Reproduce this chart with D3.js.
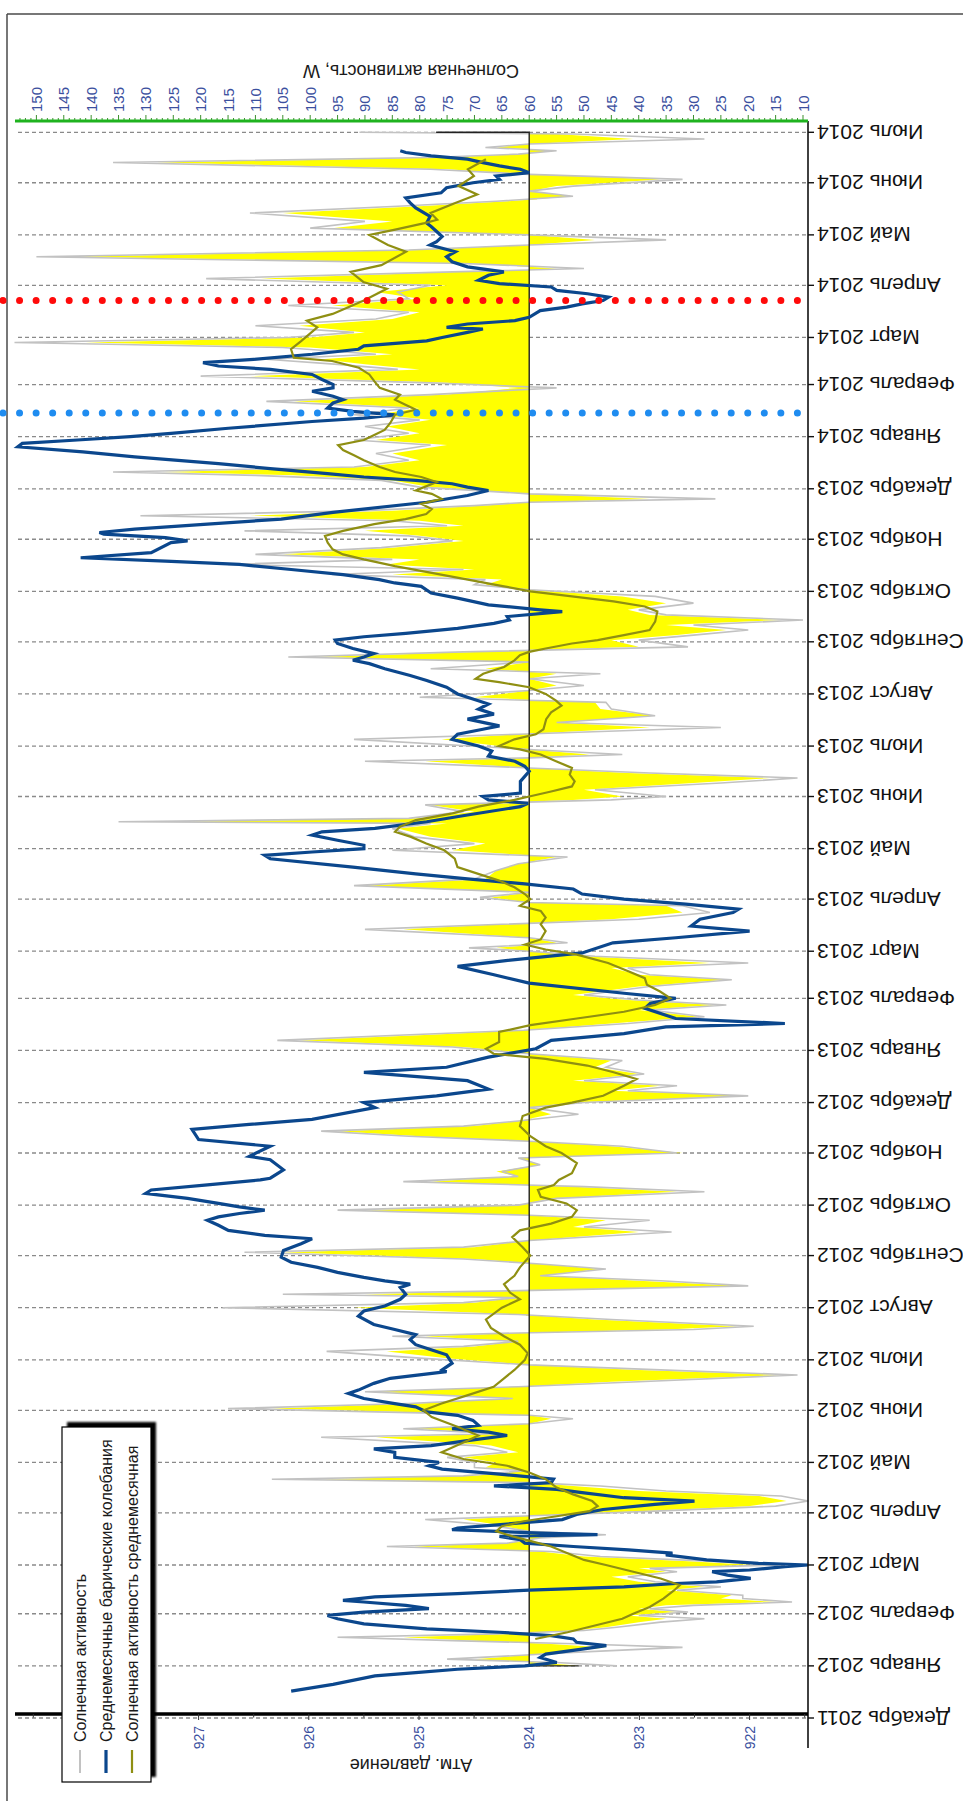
<!DOCTYPE html>
<html>
<head>
<meta charset="utf-8">
<script src="https://cdn.jsdelivr.net/npm/d3@7"></script>
<style>
  html, body { margin: 0; padding: 0; background: #fff; }
  svg { display: block; }
  text { font-family: "Liberation Sans", Arial, sans-serif; }
</style>
</head>
<body>
<svg id="chart" width="963" height="1801"></svg>
<script>
// ---------- labels ----------
const monthNames = ["Январь", "Февраль", "Март", "Апрель", "Май", "Июнь",
                    "Июль", "Август", "Сентябрь", "Октябрь", "Ноябрь", "Декабрь"];
const pressureTicks = [922, 923, 924, 925, 926, 927];
const solarTicks = [10, 15, 20, 25, 30, 35, 40, 45, 50, 55, 60, 65, 70, 75, 80,
                    85, 90, 95, 100, 105, 110, 115, 120, 125, 130, 135, 140, 145, 150];
const legendNames = ["Солнечная активность",
                     "Среднемесячные барические колебания",
                     "Солнечная активность среднемесячная"];
const pressureTitle = "Атм. давление";
const solarTitle = "Солнечная активность, W";
const solarBaseline = 60;
const markerDates = { red: "2014-03-23", blue: "2014-01-15" };

// ---------- solar activity: [date, area value, daily value] ----------
const solarActivity = [
  ["2012-01-01",51,44],["2012-01-03",58,55],["2012-01-05",70,75],["2012-01-07",62,63],
  ["2012-01-09",55,52],["2012-01-12",46,32],["2012-01-14",56,50],["2012-01-16",70,74],
  ["2012-01-18",83,95],["2012-01-20",64,66],["2012-01-22",52,50],["2012-01-24",46,44],
  ["2012-01-27",40,36],["2012-01-29",35,28],["2012-01-31",42,40],["2012-02-02",33,31],
  ["2012-02-04",40,38],["2012-02-06",35,30],["2012-02-08",15,12],["2012-02-10",25,21],
  ["2012-02-12",23,21],["2012-02-15",35,33],["2012-02-17",28,25],["2012-02-20",40,37],
  ["2012-02-23",45,42],["2012-02-26",35,33],["2012-02-28",40,38],["2012-03-01",19,14],
  ["2012-03-03",30,25],["2012-03-06",50,47],["2012-03-09",58,56],["2012-03-12",81,86],
  ["2012-03-14",64,64],["2012-03-17",58,58],["2012-03-19",47,46],["2012-03-21",60,60],
  ["2012-03-25",66,68],["2012-03-28",72,79],["2012-03-30",62,62],["2012-04-02",40,37],
  ["2012-04-05",20,15],["2012-04-08",13,9],["2012-04-11",18,14],["2012-04-14",40,35],
  ["2012-04-17",52,47],["2012-04-19",60,60],["2012-04-21",98,107],["2012-04-23",70,72],
  ["2012-04-26",61,61],["2012-04-28",68,70],["2012-05-01",66,70],["2012-05-04",72,75],
  ["2012-05-07",62,64],["2012-05-11",67,70],["2012-05-16",88,98],["2012-05-18",65,66],
  ["2012-05-21",81,83],["2012-05-24",60,60],["2012-05-27",56,52],["2012-05-29",60,60],
  ["2012-06-02",107,115],["2012-06-05",80,82],["2012-06-08",63,63],["2012-06-12",88,90],
  ["2012-06-15",62,62],["2012-06-18",45,40],["2012-06-22",14,11],["2012-06-25",40,36],
  ["2012-06-28",60,60],["2012-07-02",75,80],["2012-07-06",86,97],["2012-07-09",70,72],
  ["2012-07-12",62,62],["2012-07-15",79,85],["2012-07-17",62,62],["2012-07-19",35,30],
  ["2012-07-21",22,19],["2012-07-25",48,45],["2012-07-28",62,62],["2012-08-01",92,116],
  ["2012-08-04",70,72],["2012-08-07",62,62],["2012-08-09",90,105],["2012-08-11",64,64],
  ["2012-08-14",22,20],["2012-08-17",40,36],["2012-08-20",58,58],["2012-08-24",47,46],
  ["2012-08-27",58,58],["2012-08-30",70,72],["2012-09-03",105,112],["2012-09-06",70,72],
  ["2012-09-10",60,60],["2012-09-15",40,34],["2012-09-18",52,50],["2012-09-22",46,38],
  ["2012-09-25",60,60],["2012-09-28",90,95],["2012-10-01",62,62],["2012-10-05",56,55],
  ["2012-10-09",33,28],["2012-10-12",52,50],["2012-10-15",78,83],["2012-10-18",62,62],
  ["2012-10-21",66,65],["2012-10-25",58,58],["2012-10-29",62,62],["2012-11-01",32,33],
  ["2012-11-05",45,43],["2012-11-08",60,60],["2012-11-11",80,82],["2012-11-14",95,98],
  ["2012-11-17",70,72],["2012-11-20",62,62],["2012-11-24",56,51],["2012-11-28",60,60],
  ["2012-12-01",52,50],["2012-12-05",21,20],["2012-12-08",45,42],["2012-12-11",36,33],
  ["2012-12-14",52,50],["2012-12-18",40,39],["2012-12-22",48,46],["2012-12-26",45,43],
  ["2012-12-30",60,60],["2013-01-03",72,74],["2013-01-07",102,106],["2013-01-10",80,84],
  ["2013-01-13",61,61],["2013-01-17",45,42],["2013-01-21",29,28],["2013-01-25",40,38],
  ["2013-01-28",26,24],["2013-01-31",42,40],["2013-02-03",52,50],["2013-02-08",40,38],
  ["2013-02-12",24,23],["2013-02-15",40,38],["2013-02-19",45,42],["2013-02-22",27,20],
  ["2013-02-26",50,48],["2013-03-01",60,60],["2013-03-03",66,71],["2013-03-06",55,53],
  ["2013-03-09",60,60],["2013-03-14",83,90],["2013-03-17",65,65],["2013-03-20",45,40],
  ["2013-03-24",32,27],["2013-03-28",35,32],["2013-03-30",60,60],["2013-04-02",67,69],
  ["2013-04-05",60,60],["2013-04-09",90,92],["2013-04-13",68,70],["2013-04-18",66,66],
  ["2013-04-22",62,62],["2013-04-26",55,53],["2013-04-30",74,85],["2013-05-04",68,70],
  ["2013-05-08",78,81],["2013-05-13",84,85],["2013-05-16",75,78],["2013-05-17",124,135],
  ["2013-05-19",80,82],["2013-05-23",70,72],["2013-05-27",78,79],["2013-05-30",52,45],
  ["2013-06-01",43,35],["2013-06-05",50,48],["2013-06-09",30,25],["2013-06-12",16,11],
  ["2013-06-15",42,38],["2013-06-18",60,60],["2013-06-22",79,90],["2013-06-24",60,60],
  ["2013-06-26",49,43],["2013-06-29",60,60],["2013-07-05",76,92],["2013-07-08",62,62],
  ["2013-07-12",38,25],["2013-07-15",55,55],["2013-07-19",37,37],["2013-07-23",47,45],
  ["2013-07-27",48,46],["2013-07-30",70,80],["2013-08-03",60,60],["2013-08-06",55,50],
  ["2013-08-10",60,60],["2013-08-13",55,47],["2013-08-16",68,78],["2013-08-20",60,60],
  ["2013-08-23",99,104],["2013-08-26",70,72],["2013-08-29",40,31],["2013-09-02",45,40],
  ["2013-09-05",33,30],["2013-09-08",24,20],["2013-09-11",35,30],["2013-09-14",14,10],
  ["2013-09-17",38,35],["2013-09-20",42,40],["2013-09-24",35,30],["2013-09-28",43,37],
  ["2013-10-02",60,60],["2013-10-05",68,70],["2013-10-08",65,68],["2013-10-11",85,96],
  ["2013-10-14",70,72],["2013-10-17",86,115],["2013-10-20",80,85],["2013-10-23",105,110],
  ["2013-10-27",85,87],["2013-10-31",72,74],["2013-11-03",80,82],["2013-11-06",90,112],
  ["2013-11-09",72,75],["2013-11-12",80,85],["2013-11-15",111,131],["2013-11-18",85,90],
  ["2013-11-21",68,70],["2013-11-23",60,60],["2013-11-25",38,26],["2013-11-28",60,60],
  ["2013-12-02",78,80],["2013-12-06",85,87],["2013-12-09",103,110],["2013-12-11",127,136],
  ["2013-12-14",90,92],["2013-12-18",80,82],["2013-12-22",85,88],["2013-12-27",75,78],
  ["2013-12-30",88,92],["2014-01-03",80,82],["2014-01-07",86,90],["2014-01-11",78,80],
  ["2014-01-14",88,92],["2014-01-18",80,82],["2014-01-22",103,108],["2014-01-26",75,78],
  ["2014-01-30",62,55],["2014-02-02",75,78],["2014-02-06",111,120],["2014-02-10",80,84],
  ["2014-02-13",90,95],["2014-02-16",98,108],["2014-02-19",85,88],["2014-02-23",100,105],
  ["2014-02-26",141,154],["2014-03-01",100,104],["2014-03-04",90,92],["2014-03-08",102,110],
  ["2014-03-12",85,88],["2014-03-16",80,82],["2014-03-20",96,104],["2014-03-24",80,82],
  ["2014-03-28",88,84],["2014-04-01",75,78],["2014-04-05",109,119],["2014-04-09",72,74],
  ["2014-04-11",55,50],["2014-04-14",70,72],["2014-04-18",143,150],["2014-04-22",80,82],
  ["2014-04-25",60,60],["2014-04-28",48,35],["2014-05-01",60,60],["2014-05-05",96,100],
  ["2014-05-09",85,90],["2014-05-14",105,111],["2014-05-18",80,84],["2014-05-21",64,66],
  ["2014-05-24",52,52],["2014-05-27",60,60],["2014-05-30",55,52],["2014-06-03",36,32],
  ["2014-06-06",60,60],["2014-06-09",75,78],["2014-06-13",128,136],["2014-06-16",75,78],
  ["2014-06-18",62,62],["2014-06-20",55,55],["2014-06-22",66,68],["2014-06-24",60,60],
  ["2014-06-27",41,28],["2014-06-30",55,52],["2014-07-01",77,91]
];

// ---------- monthly mean pressure: [date, hPa] ----------
const pressureMonthly = [
  ["2011-12-17",926.16],["2011-12-21",925.78],["2011-12-26",925.4],["2011-12-28",925.03],
  ["2011-12-30",924.65],["2012-01-01",924.04],["2012-01-03",923.75],["2012-01-06",923.9],
  ["2012-01-08",923.85],["2012-01-11",923.52],["2012-01-13",923.3],["2012-01-15",923.57],
  ["2012-01-17",923.6],["2012-01-19",923.8],["2012-01-21",924.27],["2012-01-23",924.93],
  ["2012-01-26",925.5],["2012-01-29",925.74],["2012-01-31",925.83],["2012-02-02",925.5],
  ["2012-02-04",924.91],["2012-02-06",925.12],["2012-02-08",925.5],["2012-02-09",925.69],
  ["2012-02-11",925.4],["2012-02-13",924.65],["2012-02-15",924.0],["2012-02-17",923.14],
  ["2012-02-19",922.67],["2012-02-20",922.3],["2012-02-22",921.99],["2012-02-24",922.2],
  ["2012-02-26",922.34],["2012-02-27",922.0],["2012-02-29",921.68],["2012-03-01",921.47],
  ["2012-03-02",921.92],["2012-03-04",922.39],["2012-03-07",922.76],["2012-03-08",922.7],
  ["2012-03-10",923.1],["2012-03-12",923.6],["2012-03-14",924.04],["2012-03-16",924.08],
  ["2012-03-18",924.27],["2012-03-19",923.38],["2012-03-20",923.9],["2012-03-22",924.7],
  ["2012-03-23",924.65],["2012-03-26",924.08],["2012-03-28",923.7],["2012-03-31",923.57],
  ["2012-04-03",923.33],["2012-04-06",922.86],["2012-04-08",922.5],["2012-04-10",923.14],
  ["2012-04-13",923.52],["2012-04-15",923.75],["2012-04-17",924.32],["2012-04-19",923.8],
  ["2012-04-21",923.78],["2012-04-24",924.27],["2012-04-27",924.79],["2012-04-29",924.91],
  ["2012-05-01",924.82],["2012-05-04",925.22],["2012-05-07",925.22],["2012-05-09",925.41],
  ["2012-05-11",924.89],["2012-05-14",924.56],["2012-05-17",924.2],["2012-05-19",924.37],
  ["2012-05-21",924.7],["2012-05-23",924.46],["2012-05-26",924.51],["2012-05-29",924.65],
  ["2012-05-31",924.93],["2012-06-03",925.03],["2012-06-05",925.22],["2012-06-08",925.5],
  ["2012-06-11",925.64],["2012-06-13",925.55],["2012-06-17",925.41],["2012-06-20",925.26],
  ["2012-06-24",924.75],["2012-06-25",924.79],["2012-06-29",924.7],["2012-07-04",924.75],
  ["2012-07-07",924.89],["2012-07-10",925.03],["2012-07-13",925.08],["2012-07-16",925.03],
  ["2012-07-19",925.22],["2012-07-22",925.41],["2012-07-27",925.55],["2012-07-30",925.5],
  ["2012-08-02",925.31],["2012-08-06",925.17],["2012-08-09",925.12],["2012-08-13",925.17],
  ["2012-08-15",925.08],["2012-08-17",925.31],["2012-08-19",925.5],["2012-08-22",925.74],
  ["2012-08-25",925.92],["2012-08-28",926.16],["2012-08-31",926.25],["2012-09-04",926.23],
  ["2012-09-08",926.07],["2012-09-11",925.97],["2012-09-13",926.4],["2012-09-16",926.73],
  ["2012-09-19",926.82],["2012-09-22",926.92],["2012-09-24",926.82],["2012-09-26",926.63],
  ["2012-09-28",926.4],["2012-09-30",926.63],["2012-10-02",926.82],["2012-10-05",927.1],
  ["2012-10-08",927.48],["2012-10-10",927.43],["2012-10-13",926.92],["2012-10-16",926.44],
  ["2012-10-17",926.35],["2012-10-22",926.23],["2012-10-28",926.35],["2012-10-30",926.54],
  ["2012-11-05",926.35],["2012-11-09",927.0],["2012-11-15",927.06],["2012-11-18",926.54],
  ["2012-11-21",925.97],["2012-11-28",925.4],["2012-12-01",925.5],["2012-12-05",924.84],
  ["2012-12-09",924.37],["2012-12-14",924.56],["2012-12-19",925.5],["2012-12-22",924.75],
  ["2012-12-28",924.37],["2013-01-02",923.94],["2013-01-07",923.8],["2013-01-11",923.14],
  ["2013-01-15",922.76],["2013-01-17",921.68],["2013-01-20",922.67],["2013-01-26",922.95],
  ["2013-01-29",922.9],["2013-02-01",922.67],["2013-02-04",923.14],["2013-02-10",924.0],
  ["2013-02-15",924.32],["2013-02-20",924.65],["2013-02-23",924.27],["2013-02-28",923.52],
  ["2013-03-06",923.24],["2013-03-09",922.67],["2013-03-13",922.0],["2013-03-16",922.53],
  ["2013-03-20",922.45],["2013-03-24",922.15],["2013-03-26",922.1],["2013-03-29",922.58],
  ["2013-04-01",923.14],["2013-04-04",923.52],["2013-04-07",923.6],["2013-04-10",924.04],
  ["2013-04-13",924.56],["2013-04-16",925.03],["2013-04-20",925.6],["2013-04-25",926.35],
  ["2013-04-27",926.4],["2013-04-29",925.97],["2013-05-01",925.5],["2013-05-03",925.5],
  ["2013-05-06",925.74],["2013-05-09",925.97],["2013-05-11",925.88],["2013-05-13",925.4],
  ["2013-05-17",924.93],["2013-05-21",924.56],["2013-05-26",924.08],["2013-05-28",924.01],
  ["2013-05-30",924.37],["2013-06-01",924.42],["2013-06-03",924.08],["2013-06-10",924.08],
  ["2013-06-16",924.0],["2013-06-19",924.04],["2013-06-22",924.13],["2013-06-25",924.37],
  ["2013-06-28",924.34],["2013-07-01",924.46],["2013-07-05",924.7],["2013-07-08",924.65],
  ["2013-07-11",924.42],["2013-07-13",924.27],["2013-07-17",924.56],["2013-07-20",924.32],
  ["2013-07-23",924.46],["2013-07-26",924.37],["2013-07-30",924.56],["2013-08-01",924.65],
  ["2013-08-05",924.75],["2013-08-09",924.93],["2013-08-12",925.08],["2013-08-16",925.31],
  ["2013-08-19",925.45],["2013-08-21",925.6],["2013-08-23",925.5],["2013-08-25",925.41],
  ["2013-08-28",925.6],["2013-08-31",925.74],["2013-09-02",925.76],["2013-09-04",925.5],
  ["2013-09-06",925.12],["2013-09-09",924.65],["2013-09-12",924.32],["2013-09-14",924.18],
  ["2013-09-16",924.2],["2013-09-19",923.7],["2013-09-20",923.9],["2013-09-23",924.37],
  ["2013-09-27",924.65],["2013-09-30",924.89],["2013-10-04",924.98],["2013-10-06",925.22],
  ["2013-10-08",925.36],["2013-10-11",925.69],["2013-10-14",926.16],["2013-10-17",926.63],
  ["2013-10-19",927.3],["2013-10-21",928.07],["2013-10-24",927.43],["2013-10-30",927.25],
  ["2013-10-31",927.1],["2013-11-02",927.3],["2013-11-04",927.86],["2013-11-05",927.9],
  ["2013-11-07",927.58],["2013-11-10",926.92],["2013-11-13",926.25],["2013-11-17",925.78],
  ["2013-11-23",924.93],["2013-11-27",924.56],["2013-11-30",924.37],["2013-12-02",924.56],
  ["2013-12-04",924.7],["2013-12-06",925.03],["2013-12-08",925.5],["2013-12-10",925.83],
  ["2013-12-13",926.35],["2013-12-16",926.82],["2013-12-20",927.58],["2013-12-23",928.05],
  ["2013-12-26",928.64],["2013-12-28",928.6],["2013-12-30",928.1],["2014-01-01",927.62],
  ["2014-01-03",927.25],["2014-01-06",926.73],["2014-01-10",925.97],["2014-01-12",925.5],
  ["2014-01-14",925.22],["2014-01-16",925.6],["2014-01-18",925.83],["2014-01-21",925.78],
  ["2014-01-23",925.69],["2014-01-25",925.78],["2014-01-28",925.97],["2014-01-30",925.78],
  ["2014-02-01",925.78],["2014-02-04",925.88],["2014-02-07",925.97],["2014-02-10",926.35],
  ["2014-02-12",926.82],["2014-02-14",926.96],["2014-02-16",926.5],["2014-02-19",925.97],
  ["2014-02-22",925.55],["2014-02-24",925.5],["2014-02-27",924.93],["2014-03-01",924.79],
  ["2014-03-04",924.56],["2014-03-06",924.42],["2014-03-07",924.75],["2014-03-09",924.56],
  ["2014-03-11",924.13],["2014-03-13",924.0],["2014-03-17",923.9],["2014-03-19",923.66],
  ["2014-03-21",923.52],["2014-03-23",923.33],["2014-03-25",923.28],["2014-03-27",923.47],
  ["2014-03-29",923.75],["2014-03-31",923.8],["2014-04-02",924.27],["2014-04-04",924.46],
  ["2014-04-07",924.37],["2014-04-09",924.23],["2014-04-12",924.56],["2014-04-15",924.7],
  ["2014-04-18",924.75],["2014-04-21",924.67],["2014-04-25",924.9],["2014-04-27",924.84],
  ["2014-04-30",924.79],["2014-05-03",924.84],["2014-05-06",924.89],["2014-05-08",924.93],
  ["2014-05-12",924.9],["2014-05-17",925.03],["2014-05-20",925.08],["2014-05-23",925.12],
  ["2014-05-26",924.8],["2014-05-29",924.75],["2014-06-01",924.51],["2014-06-03",924.27],
  ["2014-06-05",924.3],["2014-06-07",924.0],["2014-06-09",924.08],["2014-06-11",924.27],
  ["2014-06-13",924.42],["2014-06-15",924.56],["2014-06-17",924.89],["2014-06-19",925.12],
  ["2014-06-20",925.17]
];

// ---------- monthly mean solar activity: [date, W] ----------
const solarMonthly = [
  ["2012-01-17",58.9],["2012-01-21",53],["2012-01-25",48],["2012-01-29",43],["2012-02-01",41],
  ["2012-02-05",38],["2012-02-10",35.5],["2012-02-15",33.5],["2012-02-18",32.5],["2012-02-22",36],
  ["2012-02-26",41],["2012-03-01",46],["2012-03-04",50],["2012-03-08",53],["2012-03-12",56],
  ["2012-03-15",59.5],["2012-03-18",63],["2012-03-21",66],["2012-03-24",65],["2012-03-27",61],
  ["2012-03-30",55],["2012-04-02",49],["2012-04-05",47.5],["2012-04-08",48.5],["2012-04-12",52],
  ["2012-04-16",55],["2012-04-21",57],["2012-04-25",60],["2012-04-29",64],["2012-05-03",72],
  ["2012-05-07",76],["2012-05-14",71.2],["2012-05-17",69.3],["2012-05-22",73],["2012-05-28",77.8],
  ["2012-06-01",79.3],["2012-06-05",76],["2012-06-10",71.2],["2012-06-15",66.5],["2012-06-20",64.6],
  ["2012-06-25",62.7],["2012-07-01",60.8],["2012-07-05",60.3],["2012-07-10",61.7],["2012-07-15",64.6],
  ["2012-07-20",67],["2012-07-25",67.9],["2012-08-01",65],["2012-08-06",61.7],["2012-08-10",63.5],
  ["2012-08-15",64.6],["2012-08-20",62.7],["2012-08-25",61.7],["2012-09-01",59.8],["2012-09-06",61.2],
  ["2012-09-12",63.1],["2012-09-16",61.7],["2012-09-20",56],["2012-09-24",52.2],["2012-09-28",51.3],
  ["2012-10-02",53.2],["2012-10-06",57.9],["2012-10-10",58.4],["2012-10-13",55.5],["2012-10-16",54.6],
  ["2012-10-20",52.2],["2012-10-26",51.3],["2012-11-01",54.1],["2012-11-05",57],["2012-11-11",59.8],
  ["2012-11-17",61.7],["2012-11-23",61.2],["2012-11-28",57],["2012-12-01",52.2],["2012-12-05",46.5],
  ["2012-12-11",42.7],["2012-12-15",40.4],["2012-12-19",44.6],["2012-12-23",49.4],["2012-12-27",57],
  ["2012-12-30",66.5],["2013-01-02",67.9],["2013-01-06",65.5],["2013-01-12",65.5],["2013-01-16",59.8],
  ["2013-01-20",51.3],["2013-01-24",42.7],["2013-01-28",37],["2013-02-01",34.2],["2013-02-05",36.1],
  ["2013-02-09",38.5],["2013-02-13",38.9],["2013-02-17",41.8],["2013-02-22",45.6],["2013-02-27",51.3],
  ["2013-03-02",57],["2013-03-05",60.8],["2013-03-08",57.9],["2013-03-13",57],["2013-03-17",57.9],
  ["2013-03-21",57],["2013-03-25",57.9],["2013-03-28",61.7],["2013-04-01",59.8],["2013-04-04",60.8],
  ["2013-04-08",62.7],["2013-04-12",65.5],["2013-04-16",69.3],["2013-04-20",73.1],["2013-04-25",73.6],
  ["2013-04-30",75.5],["2013-05-04",78.8],["2013-05-08",81.6],["2013-05-11",84.5],["2013-05-14",83.6],
  ["2013-05-18",80.7],["2013-05-22",74],["2013-05-26",69.3],["2013-05-30",62.7],["2013-06-01",60],
  ["2013-06-04",56],["2013-06-07",52.2],["2013-06-10",51.7],["2013-06-14",52.6],["2013-06-18",52.2],
  ["2013-06-22",55.1],["2013-06-26",57.9],["2013-06-29",61.7],["2013-07-01",65.5],["2013-07-05",62.7],
  ["2013-07-08",58.8],["2013-07-11",57.4],["2013-07-17",56.9],["2013-07-21",56],["2013-07-25",54.1],
  ["2013-07-28",55.1],["2013-08-01",57],["2013-08-05",60],["2013-08-08",65.5],["2013-08-10",69.8],
  ["2013-08-13",68.4],["2013-08-17",64.6],["2013-08-21",62.7],["2013-08-24",61.7],["2013-08-26",60],
  ["2013-08-28",57],["2013-08-31",52.2],["2013-09-02",47.5],["2013-09-05",42.7],["2013-09-08",38],
  ["2013-09-13",37],["2013-09-19",36.6],["2013-09-22",38.9],["2013-09-25",44.6],["2013-09-28",52.2],
  ["2013-10-01",59.8],["2013-10-04",64.6],["2013-10-08",71.2],["2013-10-12",77.8],["2013-10-16",84.5],
  ["2013-10-20",90.2],["2013-10-23",94],["2013-10-26",95.9],["2013-10-30",96.8],["2013-11-03",97.3],
  ["2013-11-06",94],["2013-11-10",88.3],["2013-11-13",82.6],["2013-11-16",78.8],["2013-11-19",77.8],
  ["2013-11-22",79.7],["2013-11-25",76],["2013-11-28",77.8],["2013-11-30",80.7],["2013-12-05",76.9],
  ["2013-12-08",79.7],["2013-12-11",84.5],["2013-12-14",87.3],["2013-12-18",90.2],["2013-12-21",92],
  ["2013-12-24",94],["2013-12-27",94.9],["2013-12-30",90.2],["2014-01-02",88.3],["2014-01-05",86.4],
  ["2014-01-09",85.4],["2014-01-14",84.5],["2014-01-17",80.7],["2014-01-20",82.6],["2014-01-23",84.5],
  ["2014-01-26",83.6],["2014-01-30",87.3],["2014-02-03",88.3],["2014-02-07",89.2],["2014-02-11",91.1],
  ["2014-02-15",96],["2014-02-17",103],["2014-02-22",103.5],["2014-02-27",101.6],["2014-03-07",98.7],
  ["2014-03-11",100.6],["2014-03-15",95.9],["2014-03-23",90.2],["2014-03-30",86],["2014-04-03",90.3],
  ["2014-04-09",92.6],["2014-04-13",87],["2014-04-21",82.5],["2014-04-25",85.8],["2014-05-01",89.2],
  ["2014-05-04",84.7],["2014-05-08",79.1],["2014-05-10",76.8],["2014-05-14",78],["2014-05-20",73.5],
  ["2014-05-25",69.5],["2014-05-30",72.9],["2014-06-05",70.1],["2014-06-09",71.2],["2014-06-15",67.9]
];

// ---------- drawing ----------
const parse = d3.timeParse("%Y-%m-%d");
const svg = d3.select("#chart");

// The chart is laid out with time running left to right and then turned
// a quarter turn counter-clockwise as a whole.
const W = 1801;
const g = svg.append("g").attr("transform", `translate(0,${W}) rotate(-90)`);

const plot = { left: 87, right: 1680, top: 15, bottom: 808 };
const timeStart = new Date(2011, 11, 1), timeEnd = new Date(2014, 6, 1);
const x = d3.scaleTime().domain([timeStart, timeEnd]).range([83, 1668.7]);
const ySolar = d3.scaleLinear().domain([10, 150]).range([803, 36.4]);
const yPress = d3.scaleLinear().domain([922, 927]).range([749.6, 198.6]);

const FONT = "'Liberation Sans', Arial, sans-serif";
const tickBlue = "#3b4f9e";

// outer frame
g.append("line").attr("x1", 1787).attr("x2", 1787).attr("y1", 7).attr("y2", 970)
  .attr("stroke", "#4a4a4a").attr("stroke-width", 1.5);
g.append("line").attr("x1", -5).attr("x2", 1787).attr("y1", 7).attr("y2", 7)
  .attr("stroke", "#4a4a4a").attr("stroke-width", 1.5);

// monthly grid
const months = d3.timeMonth.range(timeStart, d3.timeMonth.offset(timeEnd, 1));
g.append("g").selectAll("line").data(months).join("line")
  .attr("x1", d => x(d)).attr("x2", d => x(d))
  .attr("y1", 18).attr("y2", plot.bottom)
  .attr("stroke", "#8a8a8a").attr("stroke-width", 1.3).attr("stroke-dasharray", "4,3");

// solar activity area around the 60 W baseline
const solar = solarActivity.map(d => ({ date: parse(d[0]), area: d[1], daily: d[2] }));
const y60 = ySolar(solarBaseline);
g.append("path").datum(solar)
  .attr("d", d3.area().x(d => x(d.date)).y0(y60).y1(d => ySolar(d.area)))
  .attr("fill", "#ffff00");
g.append("path").datum(solar)
  .attr("d", d3.line().x(d => x(d.date)).y(d => ySolar(d.daily)))
  .attr("fill", "none").attr("stroke", "#c2c2c2").attr("stroke-width", 1.6);
// area outline: baseline and the two closing edges
const first = solar[0], last = solar[solar.length - 1];
g.append("path")
  .attr("d", `M${x(first.date)},${ySolar(first.area)}L${x(first.date)},${y60}L${x(last.date)},${y60}L${x(last.date)},${ySolar(last.area)}`)
  .attr("fill", "none").attr("stroke", "#222").attr("stroke-width", 1.4);

// monthly mean pressure
g.append("path").datum(pressureMonthly.map(d => ({ date: parse(d[0]), v: d[1] })))
  .attr("d", d3.line().x(d => x(d.date)).y(d => yPress(d.v)))
  .attr("fill", "none").attr("stroke", "#0b478d").attr("stroke-width", 3.2)
  .attr("stroke-linejoin", "miter");

// monthly mean solar activity
g.append("path").datum(solarMonthly.map(d => ({ date: parse(d[0]), v: d[1] })))
  .attr("d", d3.line().x(d => x(d.date)).y(d => ySolar(d.v)))
  .attr("fill", "none").attr("stroke", "#8f8f12").attr("stroke-width", 2.2);

// event markers (dotted)
[["red", "#ff0a0a"], ["blue", "#1f8cf0"]].forEach(([k, c]) => {
  const xm = x(parse(markerDates[k]));
  g.append("line").attr("x1", xm).attr("x2", xm).attr("y1", 3).attr("y2", 806)
    .attr("stroke", c).attr("stroke-width", 7).attr("stroke-linecap", "round")
    .attr("stroke-dasharray", "0,16.55");
});

// date axis
g.append("line").attr("x1", 53).attr("x2", plot.right).attr("y1", plot.bottom).attr("y2", plot.bottom)
  .attr("stroke", "#111").attr("stroke-width", 1.6);
g.append("g").selectAll("line").data(months).join("line")
  .attr("x1", d => x(d)).attr("x2", d => x(d)).attr("y1", plot.bottom).attr("y2", plot.bottom + 6)
  .attr("stroke", "#111").attr("stroke-width", 1.4);
g.append("g").selectAll("text").data(months).join("text")
  .attr("transform", d => `translate(${x(d)},${plot.bottom + 9}) rotate(-90)`)
  .attr("text-anchor", "end").attr("dominant-baseline", "central")
  .attr("font-family", FONT).attr("font-size", 21).attr("fill", "#111")
  .text(d => `${monthNames[d.getMonth()]} ${d.getFullYear()}`);

// pressure axis
g.append("line").attr("x1", plot.left).attr("x2", plot.left).attr("y1", plot.top).attr("y2", plot.bottom)
  .attr("stroke", "#000").attr("stroke-width", 3.5);
const pressMinor = d3.range(921.5, 928.75, 0.5);
g.append("g").selectAll("line").data(pressMinor).join("line")
  .attr("x1", plot.left).attr("x2", d => plot.left - (Number.isInteger(d) ? 6 : 3.5))
  .attr("y1", d => yPress(d)).attr("y2", d => yPress(d))
  .attr("stroke", "#333").attr("stroke-width", 1);
g.append("g").selectAll("text").data(pressureTicks).join("text")
  .attr("x", plot.left - 12).attr("y", d => yPress(d))
  .attr("text-anchor", "end").attr("dominant-baseline", "central")
  .attr("font-family", FONT).attr("font-size", 14).attr("fill", tickBlue)
  .text(d => d);
g.append("text").attr("transform", `translate(36,411) rotate(-90)`)
  .attr("text-anchor", "middle").attr("dominant-baseline", "central")
  .attr("font-family", FONT).attr("font-size", 18).attr("fill", "#1a1a1a")
  .text(pressureTitle);

// solar axis
const solarMinor = d3.range(10, 155, 1).filter(v => ySolar(v) >= plot.top);
g.append("g").selectAll("line").data(solarMinor).join("line")
  .attr("x1", plot.right).attr("x2", d => plot.right + (d % 5 === 0 ? 6 : 3))
  .attr("y1", d => ySolar(d)).attr("y2", d => ySolar(d))
  .attr("stroke", "#3d8f2f").attr("stroke-width", 1);
g.append("line").attr("x1", plot.right).attr("x2", plot.right).attr("y1", plot.top).attr("y2", plot.bottom)
  .attr("stroke", "#1fb31f").attr("stroke-width", 3.2);
g.append("g").selectAll("text").data(solarTicks).join("text")
  .attr("x", plot.right + 9).attr("y", d => ySolar(d))
  .attr("text-anchor", "start").attr("dominant-baseline", "central")
  .attr("font-family", FONT).attr("font-size", 15).attr("fill", tickBlue)
  .text(d => d);
g.append("text").attr("transform", `translate(1730,411) rotate(-90)`)
  .attr("text-anchor", "middle").attr("dominant-baseline", "central")
  .attr("font-family", FONT).attr("font-size", 18).attr("fill", "#1a1a1a")
  .text(solarTitle);

// legend
const defs = svg.append("defs");
defs.append("filter").attr("id", "soft").append("feGaussianBlur").attr("stdDeviation", 1.2);
const lg = g.append("g");
const box = { x: 19, y: 62, w: 355, h: 89 };
lg.append("rect").attr("x", box.x + 5).attr("y", box.y + 5).attr("width", box.w).attr("height", box.h)
  .attr("fill", "#000").attr("filter", "url(#soft)");
lg.append("rect").attr("x", box.x).attr("y", box.y).attr("width", box.w).attr("height", box.h)
  .attr("fill", "#fff").attr("stroke", "#000").attr("stroke-width", 1.2);
const legendStyles = [["#c2c2c2", 2], ["#0b478d", 3.2], ["#8f8f12", 2.2]];
const rowY = [80, 106, 132];
legendNames.forEach((name, i) => {
  lg.append("line").attr("x1", 28).attr("x2", 51).attr("y1", rowY[i]).attr("y2", rowY[i])
    .attr("stroke", legendStyles[i][0]).attr("stroke-width", legendStyles[i][1]);
  lg.append("text").attr("x", 59).attr("y", rowY[i])
    .attr("dominant-baseline", "central")
    .attr("font-family", FONT).attr("font-size", 16).attr("fill", "#1a1a1a")
    .text(name);
});
</script>
</body>
</html>
